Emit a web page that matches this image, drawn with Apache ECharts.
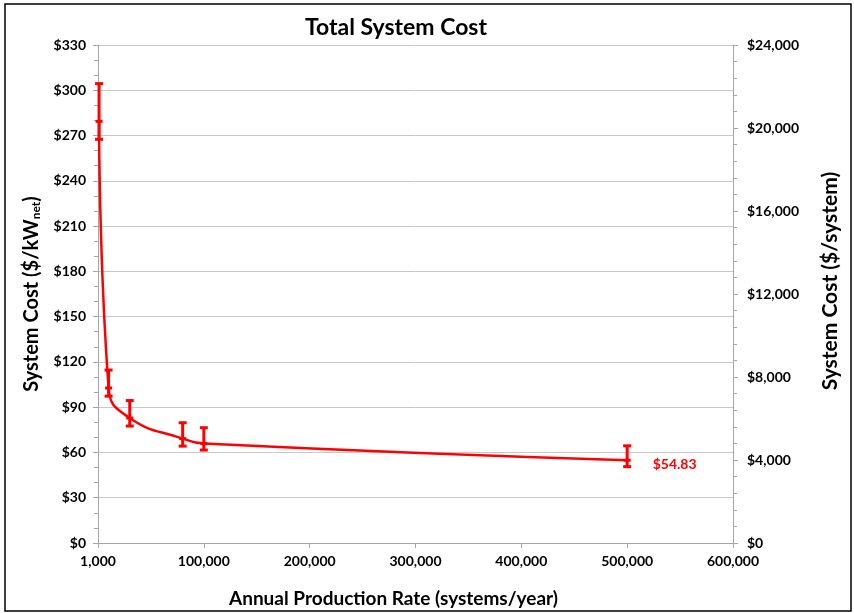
<!DOCTYPE html>
<html>
<head>
<meta charset="utf-8">
<script src="https://cdn.jsdelivr.net/npm/echarts@6/dist/echarts.min.js"></script>
<style>
html, body { margin: 0; padding: 0; background: #fff; }
#chart { width: 854px; height: 613px; }
</style>
</head>
<body>
<div id="chart"></div>
<script>
// data
var production = [1000, 10000, 30000, 80000, 100000, 500000];
var costPerKw = [279.4, 102.7, 82.8, 69.2, 65.9, 54.83];
var errHigh = [304.4, 114.6, 94.4, 79.7, 76.4, 64.4];
var errLow = [267.5, 97.3, 77.5, 64.2, 61.6, 50.6];
var xTickLabels = ['1,000', '100,000', '200,000', '300,000', '400,000', '500,000', '600,000'];

var FONT = 'Lato';
var RED = '#ff0000';

function money(v) {
    return '$' + Math.round(v).toLocaleString('en-US');
}

function initChart() {
    var myChart = echarts.init(document.getElementById('chart'));

    var lineData = production.map(function(x, i) {
        var item = { value: [x, costPerKw[i]] };
        if (i == production.length - 1) {
            item.label = {
                show: true,
                position: 'right',
                distance: 22,
                offset: [0, 4],
                color: RED,
                fontFamily: FONT,
                fontSize: 14,
                fontWeight: 'bold',
                formatter: function(p) { return '$' + p.value[1].toFixed(2); }
            };
        }
        return item;
    });

    var errData = production.map(function(x, i) {
        return [x, errHigh[i], errLow[i]];
    });

    var option = {
        animation: false,
        title: {
            text: 'Total System Cost',
            left: 391,
            top: 11,
            textAlign: 'center',
            textStyle: { fontFamily: FONT, fontSize: 23, fontWeight: 'bold', color: '#000' }
        },
        grid: { left: 98, right: 121, top: 45, bottom: 66 },
        graphic: [{
            type: 'rect',
            shape: { x: 5, y: 4, width: 846, height: 607 },
            style: { fill: 'none', stroke: '#000', lineWidth: 1.5 },
            silent: true
        }],
        xAxis: {
            type: 'value',
            min: 0,
            max: 600000,
            interval: 100000,
            name: 'Annual Production Rate (systems/year)',
            nameLocation: 'middle',
            nameGap: 46,
            nameTextStyle: { fontFamily: FONT, fontSize: 19, fontWeight: 'bold', color: '#000', padding: [0, 44, 0, 0] },
            axisLine: { lineStyle: { color: '#a6a6a6', width: 1 } },
            axisTick: { show: true, length: 5, lineStyle: { color: '#a6a6a6' } },
            splitLine: { show: false },
            axisLabel: {
                margin: 11,
                fontFamily: FONT, fontSize: 14, fontWeight: 'bold', color: '#000',
                formatter: function(v) { return xTickLabels[Math.round(v / 100000)]; }
            }
        },
        yAxis: [{
            type: 'value',
            min: 0,
            max: 330,
            interval: 30,
            position: 'left',
            name: '{a|System Cost ($/kW}{s|net}{a|)}',
            nameLocation: 'middle',
            nameGap: 54,
            nameRotate: 90,
            nameTextStyle: {
                rich: {
                    a: { fontFamily: FONT, fontSize: 20, fontWeight: 'bold', color: '#000' },
                    s: { fontFamily: FONT, fontSize: 12, fontWeight: 'bold', color: '#000', padding: [10, 0, 0, 0] }
                }
            },
            axisLine: { show: true, lineStyle: { color: '#a6a6a6' } },
            axisTick: { show: true, length: 5, lineStyle: { color: '#a6a6a6' } },
            minorTick: { show: true, splitNumber: 3, length: 4, lineStyle: { color: '#a6a6a6' } },
            splitLine: { show: true, lineStyle: { color: '#c8c8c8', width: 1 } },
            axisLabel: {
                margin: 12,
                fontFamily: FONT, fontSize: 14, fontWeight: 'bold', color: '#000',
                formatter: money
            }
        }, {
            type: 'value',
            min: 0,
            max: 24000,
            interval: 4000,
            position: 'right',
            name: 'System Cost ($/system)',
            nameLocation: 'middle',
            nameGap: 87,
            nameRotate: 90,
            nameTextStyle: { fontFamily: FONT, fontSize: 21, fontWeight: 'bold', color: '#000', padding: [0, 0, 0, 26] },
            axisLine: { show: true, lineStyle: { color: '#a6a6a6' } },
            axisTick: { show: true, length: 5, lineStyle: { color: '#a6a6a6' } },
            minorTick: { show: true, splitNumber: 5, length: 4, lineStyle: { color: '#a6a6a6' } },
            splitLine: { show: false },
            axisLabel: {
                margin: 14,
                fontFamily: FONT, fontSize: 14, fontWeight: 'bold', color: '#000',
                formatter: money
            }
        }],
        series: [{
            name: 'cost',
            type: 'line',
            smooth: 0.5,
            symbol: 'rect',
            symbolSize: [7, 3],
            itemStyle: { color: RED },
            lineStyle: { color: RED, width: 2.5 },
            data: lineData,
            z: 3
        }, {
            name: 'error',
            type: 'custom',
            renderItem: function(params, api) {
                var x = api.value(0);
                var hi = api.coord([x, api.value(1)]);
                var lo = api.coord([x, api.value(2)]);
                var w = 4;
                var st = { stroke: RED, lineWidth: 3 };
                return {
                    type: 'group',
                    children: [
                        { type: 'line', shape: { x1: hi[0], y1: hi[1], x2: lo[0], y2: lo[1] }, style: st },
                        { type: 'line', shape: { x1: hi[0] - w, y1: hi[1], x2: hi[0] + w, y2: hi[1] }, style: st },
                        { type: 'line', shape: { x1: lo[0] - w, y1: lo[1], x2: lo[0] + w, y2: lo[1] }, style: st }
                    ]
                };
            },
            encode: { x: 0, y: [1, 2] },
            data: errData,
            z: 4
        }]
    };
    myChart.setOption(option);
}

initChart();
</script>
</body>
</html>
